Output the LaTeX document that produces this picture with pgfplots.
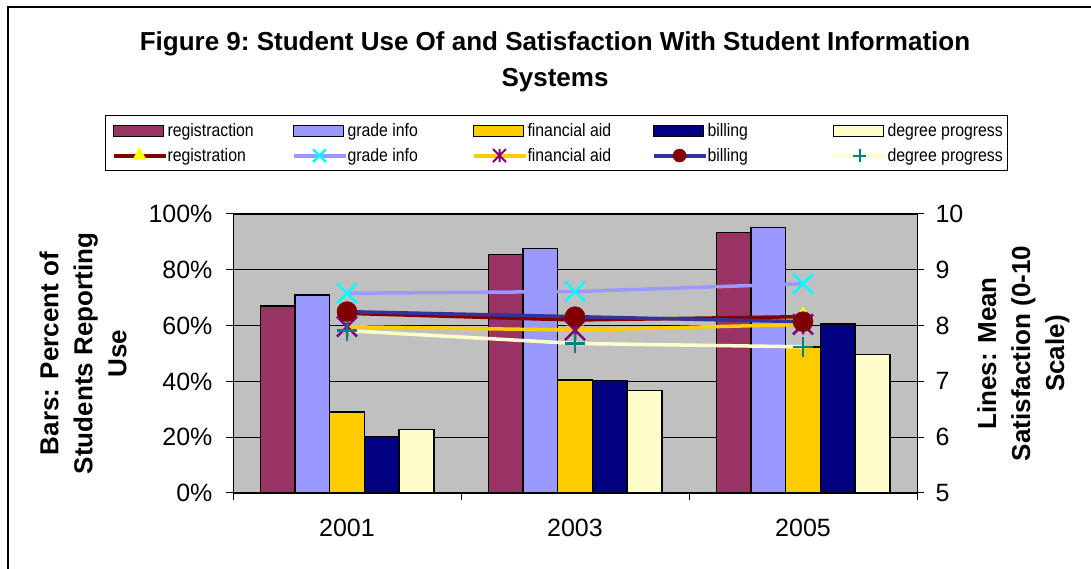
\documentclass[border=0pt]{standalone}
\usepackage{fontspec}
\setmainfont{Liberation Sans}
\newfontfamily\legfont[FakeStretch=0.88]{Liberation Sans}
\usepackage{pgfplots}
\pgfplotsset{compat=1.18}

\definecolor{regbar}{HTML}{993366}
\definecolor{gradebar}{HTML}{9999FF}
\definecolor{finbar}{HTML}{FFCC00}
\definecolor{billbar}{HTML}{000080}
\definecolor{degbar}{HTML}{FFFFCC}
\definecolor{regline}{HTML}{800000}
\definecolor{billline}{HTML}{333399}
\definecolor{plotbg}{HTML}{C0C0C0}
\definecolor{mkyellow}{HTML}{FFFF00}
\definecolor{mkcyan}{HTML}{00FFFF}
\definecolor{mkpurple}{HTML}{800080}
\definecolor{mkteal}{HTML}{008080}

% Excel style star: an x with a vertical stroke
\pgfdeclareplotmark{xstar}{%
  \pgfpathmoveto{\pgfqpoint{-\pgfplotmarksize}{-\pgfplotmarksize}}%
  \pgfpathlineto{\pgfqpoint{\pgfplotmarksize}{\pgfplotmarksize}}%
  \pgfpathmoveto{\pgfqpoint{-\pgfplotmarksize}{\pgfplotmarksize}}%
  \pgfpathlineto{\pgfqpoint{\pgfplotmarksize}{-\pgfplotmarksize}}%
  \pgfpathmoveto{\pgfqpoint{0pt}{-\pgfplotmarksize}}%
  \pgfpathlineto{\pgfqpoint{0pt}{\pgfplotmarksize}}%
  \pgfusepathqstroke}

\pgfplotsset{
  barleg/.style={legend image code/.code={\draw[##1,line width=1.5pt] (0pt,-5.5pt) rectangle (50pt,5.5pt);}},
  lineleg/.style={legend image code/.code={\draw[mark repeat=2,mark phase=2,##1] plot coordinates {(0pt,0pt) (26pt,0pt) (52pt,0pt)};}},
}

\newcommand{\legtxt}[1]{\makebox[124pt][l]{#1}}
\newcommand{\legtxtend}[1]{\makebox[114pt][l]{#1}}

\begin{document}
\begin{tikzpicture}
\useasboundingbox (0,0) rectangle (1091pt,569pt);
\draw[line width=1.5pt] (8pt,0pt) -- (8pt,562pt) -- (1091pt,562pt);

\node[align=center, font=\bfseries\fontsize{26}{36}\selectfont] at (555pt,507pt)
  {\frenchspacing Figure 9: Student Use Of and Satisfaction With Student Information\\Systems};

\begin{axis}[
    at={(233pt,76pt)}, anchor=south west,
    scale only axis, width=684pt, height=279pt,
    xmin=-0.5, xmax=2.5, ymin=0, ymax=100,
    axis background/.style={fill=plotbg},
    axis line style={black, line width=1pt},
    xtick={-0.5,0.5,1.5,2.5}, x tick label as interval,
    xticklabels={2001,2003,2005},
    ytick={0,20,40,60,80,100},
    yticklabels={0\%,20\%,40\%,60\%,80\%,100\%},
    xtick pos=lower, ytick pos=left,
    tick align=outside, major tick length=7pt,
    tick style={black, line width=1pt},
    ymajorgrids, grid style={black, line width=0.9pt},
    tick label style={font=\fontsize{25}{30}\selectfont},
    xticklabel style={yshift=-16pt},
    yticklabel style={xshift=-10pt},
    ylabel={Bars: Percent of\\Students Reporting\\Use},
    ylabel style={font=\bfseries\fontsize{26}{34}\selectfont, align=center,
      at={(axis description cs:-0.2193,0.5)}, anchor=center},
    legend columns=5,
    legend cell align=left,
    legend style={at={(axis description cs:-0.1871,1.3548)}, anchor=north west,
      draw=black, line width=1pt, fill=white,
      inner xsep=6pt, inner ysep=8pt, row sep=10pt,
      font=\legfont\fontsize{18}{21}\selectfont,
      nodes={inner sep=0pt, anchor=west},
      /tikz/every odd column/.style={column sep=0pt}},
]
\addplot[ybar, bar width=34.7pt, bar shift=-69.4pt, fill=regbar, draw=black, line width=1.5pt, barleg]
  coordinates {(0,67) (1,85.5) (2,93.3)};
\addplot[ybar, bar width=34.7pt, bar shift=-34.7pt, fill=gradebar, draw=black, line width=1.5pt, barleg]
  coordinates {(0,71) (1,87.7) (2,95.2)};
\addplot[ybar, bar width=34.7pt, bar shift=0pt, fill=finbar, draw=black, line width=1.5pt, barleg]
  coordinates {(0,29) (1,40.5) (2,52.4)};
\addplot[ybar, bar width=34.7pt, bar shift=34.7pt, fill=billbar, draw=black, line width=1.5pt, barleg]
  coordinates {(0,20.2) (1,40.3) (2,60.5)};
\addplot[ybar, bar width=34.7pt, bar shift=69.4pt, fill=degbar, draw=black, line width=1.5pt, barleg]
  coordinates {(0,22.8) (1,36.7) (2,49.7)};

\addlegendimage{lineleg, draw=regline, line width=4pt, mark=triangle*, mark size=7.5pt,
  mark options={fill=mkyellow, draw=mkyellow, line width=0.5pt}}
\addlegendimage{lineleg, draw=gradebar, line width=4pt, mark=x, mark size=9pt,
  mark options={draw=mkcyan, line width=2.5pt}}
\addlegendimage{lineleg, draw=finbar, line width=4pt, mark=xstar, mark size=6.5pt,
  mark options={draw=mkpurple, line width=2pt}}
\addlegendimage{lineleg, draw=billline, line width=4pt, mark=*, mark size=6.5pt,
  mark options={fill=regline, draw=regline, line width=0.5pt}}
\addlegendimage{lineleg, draw=degbar, line width=4pt, mark=+, mark size=6.5pt,
  mark options={draw=mkteal, line width=2pt}}

\legend{\legtxt{registraction},\legtxt{grade info},\legtxt{financial aid},\legtxt{billing},\legtxtend{degree progress},
        \legtxt{registration},\legtxt{grade info},\legtxt{financial aid},\legtxt{billing},\legtxtend{degree progress}}
\end{axis}

\begin{axis}[
    at={(233pt,76pt)}, anchor=south west,
    scale only axis, width=684pt, height=279pt,
    xmin=-0.5, xmax=2.5, ymin=5, ymax=10,
    axis x line=none, axis y line*=right,
    axis line style={black, line width=1pt},
    ytick={5,6,7,8,9,10}, yticklabels={5,6,7,8,9,10},
    tick align=outside, major tick length=7pt,
    tick style={black, line width=1pt},
    tick label style={font=\fontsize{25}{30}\selectfont},
    yticklabel style={xshift=8pt},
    ylabel={Lines: Mean\\Satisfaction (0-10\\Scale)},
    ylabel style={font=\bfseries\fontsize{26}{34}\selectfont, align=center,
      at={(axis description cs:1.1555,0.5)}, anchor=center},
    clip=false,
]
\addplot[draw=regline, line width=3.5pt, mark=triangle*, mark size=10pt,
  mark options={fill=mkyellow, draw=mkyellow, line width=0.5pt}]
  coordinates {(0,8.22) (1,8.10) (2,8.16)};
\addplot[draw=gradebar, line width=3.5pt, mark=x, mark size=14pt,
  mark options={draw=mkcyan, line width=2.5pt}]
  coordinates {(0,8.58) (1,8.61) (2,8.75)};
\addplot[draw=finbar, line width=3.5pt, mark=xstar, mark size=10pt,
  mark options={draw=mkpurple, line width=2.5pt}]
  coordinates {(0,7.98) (1,7.92) (2,8.02)};
\addplot[draw=billline, line width=3.5pt, mark=*, mark size=10pt,
  mark options={fill=regline, draw=regline, line width=0.5pt}]
  coordinates {(0,8.25) (1,8.16) (2,8.07)};
\addplot[draw=degbar, line width=3.5pt, mark=+, mark size=10pt,
  mark options={draw=mkteal, line width=2.5pt}]
  coordinates {(0,7.91) (1,7.68) (2,7.62)};
\end{axis}
\end{tikzpicture}
\end{document}
